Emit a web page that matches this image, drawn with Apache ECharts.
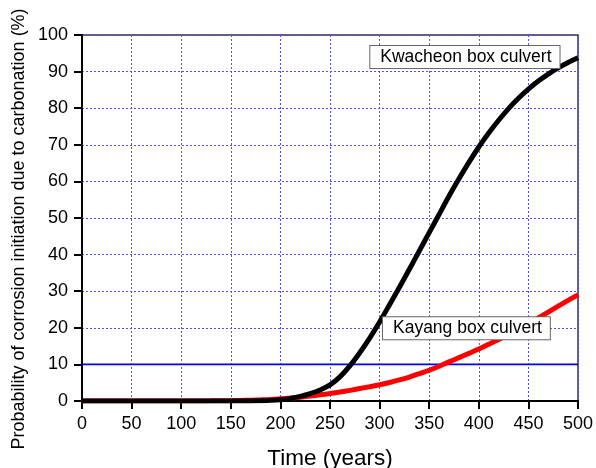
<!DOCTYPE html>
<html><head><meta charset="utf-8">
<script src="https://cdn.jsdelivr.net/npm/echarts@6/dist/echarts.min.js"></script>
<style>html,body{margin:0;padding:0;background:#fff}#c{width:596px;height:468px}</style>
</head><body><div id="c"></div>
<script>
var years = [0,10,20,30,40,50,60,70,80,90,100,110,120,130,140,150,160,170,180,190,200,210,220,230,240,250,260,270,280,290,300,310,320,330,340,350,360,370,380,390,400,410,420,430,440,450,460,470,480,490,500];
var kwacheon = [0,0,0,0,0,0,0,0,0,0,0,0,0,0,0,0,0.01,0.03,0.08,0.17,0.35,0.7,1.25,2.0,3.0,4.4,6.6,9.6,13.2,17.2,21.6,26.3,31.1,36,41,46,51,56,60.7,65.2,69.4,73.2,76.7,79.9,82.7,85.2,87.4,89.3,91,92.5,93.8];
var kayang = [0,0,0,0,0,0,0,0,0,0,0,0.01,0.02,0.04,0.07,0.1,0.15,0.2,0.3,0.42,0.6,0.8,1.05,1.35,1.7,2.05,2.45,2.9,3.4,3.9,4.45,5.05,5.75,6.55,7.45,8.4,9.5,10.7,11.85,13.0,14.2,15.5,16.8,18.2,19.7,21.2,22.7,24.3,25.9,27.5,29];
var threshold = 10;
var yTitle = 'Probability of corrosion initiation due to carbonation (%)';
var labels = [{name:'Kwacheon box culvert', coord:[386,94]},{name:'Kayang box culvert', coord:[387.5,19.9]}];

function pairs(v){return years.map(function(t,i){return [t,v[i]];});}
var chart = echarts.init(document.getElementById('c'));
var font = 'Liberation Sans, Arial, sans-serif';
chart.setOption({
  animation:false,
  grid:{left:82,right:18,top:35,bottom:67,show:true,borderColor:'#333',borderWidth:1.5,outerBoundsMode:'none',containLabel:false},
  graphic:[{type:'text',x:19,y:229,rotation:Math.PI/2,
    style:{text:yTitle,fontFamily:font,fontSize:18,fill:'#000',align:'center',verticalAlign:'middle'}}],
  xAxis:{type:'value',min:0,max:500,interval:50,
    name:'Time (years)',nameLocation:'middle',nameGap:46,
    nameTextStyle:{fontFamily:font,fontSize:22.5,color:'#000'},
    axisLine:{show:true,lineStyle:{color:'#000',width:2}},
    axisTick:{show:true,length:8,lineStyle:{color:'#000',width:2}},
    axisLabel:{fontFamily:font,fontSize:18,color:'#000',margin:14},
    splitLine:{show:true,lineStyle:{color:'#5050ff',type:[2,2],width:1}}},
  yAxis:{type:'value',min:0,max:100,interval:10,
    axisLine:{show:true,lineStyle:{color:'#000',width:2}},
    axisTick:{show:true,length:8,lineStyle:{color:'#000',width:2}},
    axisLabel:{fontFamily:font,fontSize:18,color:'#000',margin:14},
    splitLine:{show:true,lineStyle:{color:'#5050ff',type:[2,2],width:1}}},
  series:[
    {type:'line',data:[[0,threshold],[500,threshold]],symbol:'none',lineStyle:{color:'#0000ee',width:1.8},z:2},
    {type:'line',data:pairs(kayang),symbol:'none',smooth:0.3,lineStyle:{color:'#ff0000',width:5},z:3},
    {type:'line',data:pairs(kwacheon),symbol:'none',smooth:0.3,lineStyle:{color:'#000',width:5},z:4,
      markPoint:{symbol:'rect',symbolSize:1,itemStyle:{color:'transparent'},
        label:{show:true,position:'inside',formatter:'{b}',fontFamily:font,fontSize:17.5,color:'#000',
          backgroundColor:'#fff',borderColor:'#666',borderWidth:1,padding:[2,8,2,10]},
        data:labels.map(function(l){return {name:l.name,coord:l.coord};})}}
  ]
});
</script></body></html>
